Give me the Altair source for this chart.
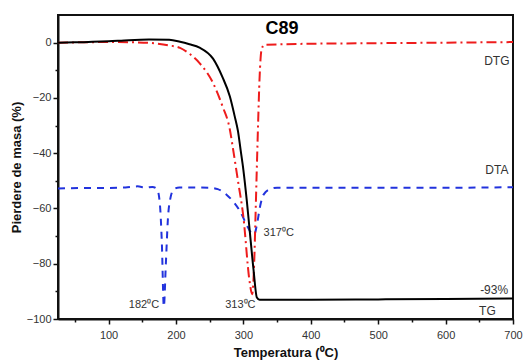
import altair as alt
import pandas as pd

# ---- data ----
tg_temp = [25, 50, 100, 130, 160, 190, 206, 220, 235, 255, 269, 280, 287, 292, 296, 300, 305, 309, 315, 320, 324, 400, 500, 600, 700]
tg_val = [0, 0.1, 0.5, 0.9, 1.1, 1.0, 0.3, -0.6, -1.8, -5.8, -12.5, -19.5, -26.5, -32, -39, -46, -57, -67, -82, -92.2, -93, -93, -92.9, -92.8, -92.6]

dtg_temp = [25, 100, 140, 170, 190, 206, 220, 235, 255, 269, 280, 285, 292, 300, 309, 313, 316, 318, 320, 322, 324, 327, 331, 400, 500, 600, 700]
dtg_val = [0, 0.2, 0.1, -0.3, -1, -1.9, -4, -7.4, -14.6, -23, -31.5, -39, -50, -63, -86, -91, -80, -63, -45, -28, -13, -2.5, -0.8, -0.4, -0.2, 0, 0.2]

dta_temp = [25, 60, 100, 125, 143, 155, 165, 172, 176, 179, 182, 185, 188, 192, 197, 205, 250, 262, 275, 285, 295, 305, 312, 316, 320, 325, 330, 340, 350, 450, 600, 700]
dta_val = [-52.8, -52.6, -52.6, -52.4, -52.0, -52.5, -52.2, -53, -58, -72, -95.5, -80, -64, -56, -53, -52.4, -52.5, -53, -55, -57.5, -61, -66, -69, -69.5, -66, -59, -55, -53, -52.5, -52.5, -52.5, -52.3]

lab_temp = [676, 676, 672, 662]
lab_val = [-6.5, -46, -89.5, -97]
lab_text = ["DTG", "DTA", "-93%", "TG"]

peak_temp = [175, 318, 330]
peak_val = [-95, -95, -69]
peak_text = ["182\u2070C", "313\u2070C", "317\u2070C"]
peak_align = ["right", "right", "left"]

title_temp = [333]
title_val = [5]
title_text = ["C89"]

x_ticks = list(range(50, 701, 50))
y_ticks = list(range(-100, 1, 10))

FONT = "Liberation Sans"

tg = pd.DataFrame({"t": tg_temp, "v": tg_val})
dtg = pd.DataFrame({"t": dtg_temp, "v": dtg_val})
dta = pd.DataFrame({"t": dta_temp, "v": dta_val})
labs = pd.DataFrame({"t": lab_temp, "v": lab_val, "s": lab_text})
peaks = pd.DataFrame({"t": peak_temp, "v": peak_val, "s": peak_text, "a": peak_align})
ttl = pd.DataFrame({"t": title_temp, "v": title_val, "s": title_text})

xscale = alt.Scale(domain=[25, 700], nice=False, zero=False)
yscale = alt.Scale(domain=[-100, 10], nice=False, zero=False)

xaxis = alt.Axis(
    values=x_ticks, labelOverlap=False, labelFlush=False,
    labelExpr="(datum.value % 100 == 0) ? datum.label : ''",
    tickSize={"condition": {"test": "datum.value % 100 == 0", "value": 5}, "value": 3},
    grid=False, title="Temperatura (\u2070C)", titleFont=FONT, titleFontSize=13,
    titleFontWeight="bold", titleColor="#111", titlePadding=6,
    labelFont=FONT, labelFontSize=11, labelColor="#333", labelPadding=5,
    domainColor="#111", domainWidth=2, tickColor="#111", tickWidth=1.5,
)
yaxis = alt.Axis(
    values=y_ticks, labelOverlap=False,
    labelExpr="(datum.value % 20 == 0) ? datum.label : ''",
    tickSize={"condition": {"test": "datum.value % 20 == 0", "value": 5}, "value": 3},
    grid=False, title="Pierdere de masa (%)", titleFont=FONT, titleFontSize=13,
    titleFontWeight="bold", titleColor="#111", titlePadding=3,
    labelFont=FONT, labelFontSize=11, labelColor="#333", labelPadding=2,
    domainColor="#111", domainWidth=2, tickColor="#111", tickWidth=1.5,
)

X = alt.X("t:Q", scale=xscale, axis=xaxis)
Y = alt.Y("v:Q", scale=yscale, axis=yaxis)

dta_line = alt.Chart(dta).mark_line(color="#2233dd", strokeWidth=2, strokeDash=[7, 6], interpolate="monotone").encode(x=X, y=Y)
dtg_line = alt.Chart(dtg).mark_line(color="#ee1c1c", strokeWidth=2, strokeDash=[10, 4, 2, 4], interpolate="monotone").encode(x=X, y=Y)
tg_line = alt.Chart(tg).mark_line(color="#000000", strokeWidth=2, interpolate="monotone").encode(x=X, y=Y)

lab_layer = alt.Chart(labs).mark_text(font=FONT, fontSize=12, color="#333", align="center", baseline="middle").encode(
    x=X, y=Y, text="s:N"
)
peak_left = alt.Chart(peaks).transform_filter("datum.a === 'left'").mark_text(
    font=FONT, fontSize=11, color="#333", align="left", baseline="middle").encode(x=X, y=Y, text="s:N")
peak_right = alt.Chart(peaks).transform_filter("datum.a === 'right'").mark_text(
    font=FONT, fontSize=11, color="#333", align="right", baseline="middle").encode(x=X, y=Y, text="s:N")
title_layer = alt.Chart(ttl).mark_text(font=FONT, fontSize=18, fontWeight="bold", color="#000", align="left", baseline="middle").encode(
    x=X, y=Y, text="s:N"
)

chart = alt.layer(dta_line, dtg_line, tg_line, lab_layer, peak_left, peak_right, title_layer).properties(
    width=455, height=304, autosize="none",
    padding={"left": 58, "top": 15, "right": 13, "bottom": 41},
    background="white",
).configure_view(stroke="#111", strokeWidth=2)

chart.save("out.html", embed_options={"renderer": "svg", "actions": False})
